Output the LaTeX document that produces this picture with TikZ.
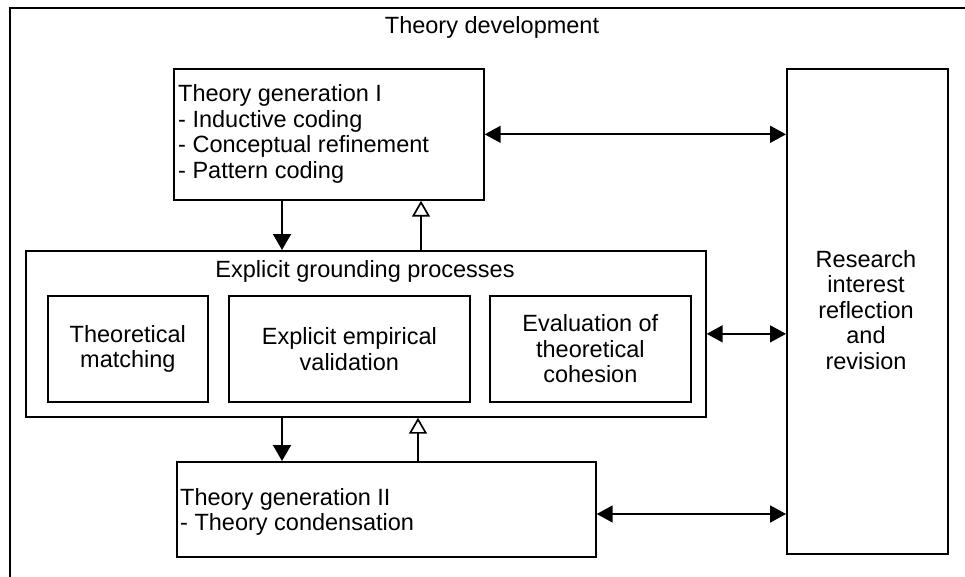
\documentclass[tikz,border=0pt]{standalone}
\usepackage{fontspec}
\setmainfont{Liberation Sans}
\usetikzlibrary{arrows.meta}
\begin{document}
\begin{tikzpicture}[x=1pt,y=-1pt,
  every node/.style={font=\fontsize{23.5}{25.5}\selectfont},
  box/.style={draw, line width=1.7pt, anchor=north west, inner sep=0pt},
  txt/.style={inner sep=0pt, align=center},
  ln/.style={line width=1.7pt},
  fwd/.style={ln, -{Triangle[length=16pt,width=18pt]}},
  back/.style={ln, -{Triangle[open,length=16pt,width=18pt]}},
  both/.style={ln, {Triangle[length=16pt,width=17pt]}-{Triangle[length=16pt,width=17pt]}}]
\useasboundingbox (0,0) rectangle (965,577);
% outer frame (open at right and bottom)
\draw[ln] (10,577) -- (10,8) -- (965,8);
\node[txt] (title) at (492,27) {Theory development};
% boxes
\node[box, minimum width=310pt, minimum height=131pt] (tg1) at (173,68) {};
\node[box, minimum width=161pt, minimum height=485pt] (res) at (786,68) {};
\node[box, minimum width=680pt, minimum height=166pt] (eg) at (25,250) {};
\node[box, minimum width=160pt, minimum height=106pt] (tm) at (47,295) {};
\node[box, minimum width=241pt, minimum height=106pt] (eev) at (228,295) {};
\node[box, minimum width=201pt, minimum height=106pt] (etc) at (489,295) {};
\node[box, minimum width=419pt, minimum height=95pt] (tg2) at (176,461) {};
% texts
\node[txt, align=left, anchor=west] (tg1t) at (178,134) {Theory generation I\\- Inductive coding\\- Conceptual refinement\\- Pattern coding};
\node[txt] (rest) at (866,310) {Research\\interest\\reflection\\and\\revision};
\node[txt] (egt) at (365,271) {Explicit grounding processes};
\node[txt] (tmt) at (tm.center) {Theoretical\\matching};
\node[txt] (eevt) at (eev.center) {Explicit empirical\\validation};
\node[txt] (etct) at (etc.center) {Evaluation of\\theoretical\\cohesion};
\node[txt, align=left, anchor=west] (tg2t) at (180,512) {Theory generation II\\- Theory condensation};
% arrows
\coordinate (xa) at (282,0);
\coordinate (xb) at (421,0);
\coordinate (xc) at (418,0);
\coordinate (yc) at (0,514);
\draw[fwd] (tg1.south -| xa) -- (eg.north -| xa);
\draw[back] (eg.north -| xb) -- (tg1.south -| xb);
\draw[fwd] (eg.south -| xa) -- (tg2.north -| xa);
\draw[back] (tg2.north -| xc) -- (eg.south -| xc);
\draw[both] (tg1.east) -- (tg1.east -| res.west);
\draw[both] (eg.east) -- (eg.east -| res.west);
\draw[both] (tg2.east |- yc) -- (res.west |- yc);
\end{tikzpicture}
\end{document}
